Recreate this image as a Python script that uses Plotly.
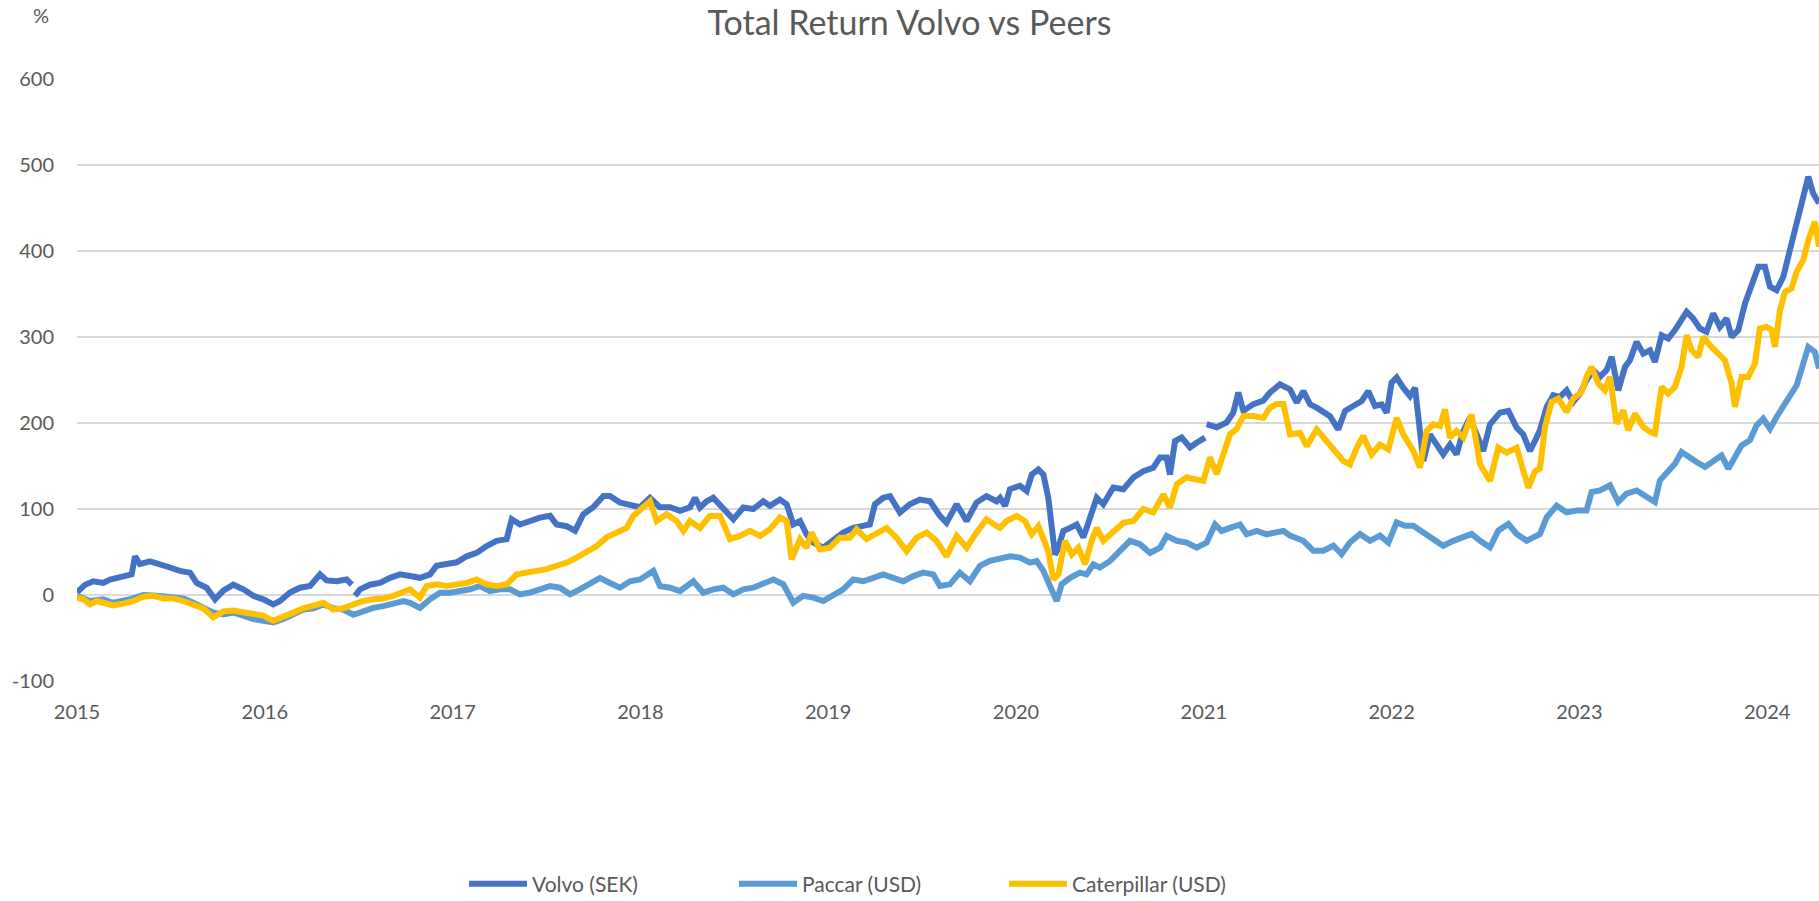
import plotly.graph_objects as go

# ---------------- data ----------------
title_text = "Total Return Volvo vs Peers"
y_unit = "%"
series_names = ["Volvo (SEK)", "Paccar (USD)", "Caterpillar (USD)"]
year_ticks = [2015, 2016, 2017, 2018, 2019, 2020, 2021, 2022, 2023, 2024]
y_ticks = [-100, 0, 100, 200, 300, 400, 500, 600]
y_tick_labels = ["-100", "0", "100", "200", "300", "400", "500", "600"]

volvo_years = [
    2015.000, 2015.043, 2015.087, 2015.140, 2015.176, 2015.211, 2015.247, 2015.291, 2015.309, 2015.335,
    2015.389, 2015.442, 2015.495, 2015.548, 2015.602, 2015.637, 2015.690, 2015.735, 2015.779, 2015.832,
    2015.886, 2015.939, 2015.992, 2016.045, 2016.081, 2016.134, 2016.187, 2016.241, 2016.294, 2016.329,
    2016.383, 2016.436, 2016.463, 2016.471, 2016.480, 2016.507, 2016.560, 2016.613, 2016.667, 2016.720,
    2016.773, 2016.826, 2016.880, 2016.915, 2016.968, 2017.022, 2017.075, 2017.128, 2017.181, 2017.235,
    2017.288, 2017.315, 2017.359, 2017.412, 2017.465, 2017.519, 2017.554, 2017.607, 2017.652, 2017.696,
    2017.749, 2017.803, 2017.838, 2017.891, 2017.945, 2017.998, 2018.051, 2018.104, 2018.158, 2018.211,
    2018.264, 2018.291,
    2018.317, 2018.353, 2018.388, 2018.441, 2018.495, 2018.548, 2018.601, 2018.654, 2018.690, 2018.743,
    2018.779, 2018.814, 2018.850, 2018.885, 2018.921, 2018.974, 2019.027, 2019.080, 2019.133, 2019.187,
    2019.222, 2019.249, 2019.293, 2019.329, 2019.382, 2019.435, 2019.488, 2019.542, 2019.595, 2019.630,
    2019.684, 2019.737, 2019.790, 2019.843, 2019.897,
    2019.915, 2019.942, 2019.968, 2020.021, 2020.057, 2020.084, 2020.119, 2020.146, 2020.172, 2020.199,
    2020.208, 2020.226, 2020.252, 2020.288, 2020.323, 2020.359, 2020.394, 2020.430, 2020.465, 2020.518,
    2020.572, 2020.625, 2020.678, 2020.731, 2020.767, 2020.802, 2020.820, 2020.847, 2020.882, 2020.927,
    2020.962, 2021.007, 2021.011, 2021.015, 2021.069, 2021.122, 2021.157, 2021.184, 2021.211, 2021.264,
    2021.317, 2021.353, 2021.406,
    2021.459, 2021.495, 2021.530, 2021.566, 2021.601, 2021.636, 2021.672, 2021.716, 2021.752, 2021.796,
    2021.841, 2021.876, 2021.912, 2021.947, 2021.974, 2022.000, 2022.027, 2022.062, 2022.098, 2022.125,
    2022.151, 2022.169, 2022.204, 2022.240, 2022.275, 2022.311, 2022.346, 2022.382, 2022.417, 2022.453,
    2022.488, 2022.524, 2022.577, 2022.622, 2022.666, 2022.701, 2022.737, 2022.772,
    2022.790, 2022.826, 2022.861, 2022.896, 2022.932, 2022.967, 2023.003, 2023.038, 2023.074, 2023.109,
    2023.145, 2023.172, 2023.207, 2023.243, 2023.269, 2023.305, 2023.340, 2023.376, 2023.402, 2023.438,
    2023.473, 2023.509, 2023.544, 2023.571, 2023.606, 2023.642, 2023.677, 2023.713, 2023.748, 2023.784,
    2023.811, 2023.846, 2023.882, 2023.917, 2023.953, 2023.988, 2024.015, 2024.050, 2024.086, 2024.121,
    2024.157, 2024.183, 2024.219, 2024.245, 2024.276,
]
volvo_values = [
    3, 12, 16, 14, 18, 20, 22, 24, 45, 36,
    39, 36, 32, 28, 26, 14, 8.5, -5, 5, 12,
    6.6, -1, -5, -11, -7, 3, 8.5, 10.5, 24, 17,
    16, 18, 12, None, -1, 6.6, 12, 14, 20, 24,
    22, 20, 24, 34, 36, 38, 45, 49, 57, 63,
    65, 88, 82, 86, 90, 92, 82, 80, 74.5, 94,
    102, 115, 115, 107.5, 105.5, 102, 113, 102, 102, 98,
    102, 113,
    101.7, 109, 113, 100, 88, 101.7, 100, 109, 103.6, 111,
    105.5, 82, 86, 70.6, 61, 55, 63, 72.6, 78, 80,
    82, 105.5, 113, 115, 96, 105.5, 111, 109, 92, 84,
    105.5, 86, 107.5, 115, 109,
    113, 103.6, 123, 127, 121, 140, 146, 140, 113, 63,
    47, 55, 74.5, 78, 82, 67, 90, 113, 105.5, 125,
    123, 136.6, 144, 148, 160, 160, 140, 179, 183, 171.5,
    177, 183, None, 198.7, 195, 200.6, 212, 235.5, 214, 222,
    226, 235.5, 245,
    239, 223.7, 237, 221.7, 217.8, 212, 208, 192.6, 214, 219.8,
    225.6, 237, 219.8, 221.7, 212, 247, 252.8, 241, 231.4, 241,
    186.8, 155.8, 186.8, 175, 163.5, 175, 163.5, 190.7, 206, 186.8,
    167.4, 198.4, 212, 214, 194.6, 186.8, 167.4, 183,
    191.5, 218.7, 232.3, 230.3, 238, 224.5, 234.2, 249.7, 261.4, 253.6,
    261.4, 276.9, 238, 265.2, 273, 294.3, 280.7, 284.6, 271, 302,
    298.2, 308, 319.6, 329.3, 321.5, 309.9, 306, 327.3, 311.8, 321.5,
    300.2, 308, 339, 358.4, 381.6, 381.6, 358.4, 354.5, 370, 401,
    432, 459.3, 486.4, 467, 455.4,
]

paccar_years = [
    2015.000, 2015.069, 2015.140, 2015.193, 2015.282, 2015.353, 2015.424, 2015.495, 2015.566, 2015.619,
    2015.673, 2015.726, 2015.779, 2015.832, 2015.886, 2015.939, 2015.992, 2016.045, 2016.099, 2016.152,
    2016.205, 2016.258, 2016.312, 2016.365, 2016.418, 2016.471, 2016.525, 2016.578, 2016.631, 2016.684,
    2016.738,
    2016.773, 2016.826, 2016.880, 2016.933, 2016.986, 2017.039, 2017.093, 2017.146, 2017.199, 2017.252,
    2017.306, 2017.359, 2017.412, 2017.465, 2017.519, 2017.572, 2017.625, 2017.678, 2017.732, 2017.785,
    2017.838, 2017.891, 2017.945, 2017.998, 2018.069, 2018.104, 2018.158, 2018.211, 2018.282, 2018.335,
    2018.388, 2018.441, 2018.495, 2018.548, 2018.601, 2018.654, 2018.708, 2018.761, 2018.814, 2018.867,
    2018.921, 2018.974, 2019.027, 2019.080, 2019.133, 2019.187, 2019.240, 2019.293, 2019.346, 2019.400,
    2019.453, 2019.506, 2019.559, 2019.595, 2019.648, 2019.701, 2019.755, 2019.808, 2019.861, 2019.914,
    2019.968, 2020.021, 2020.075, 2020.110, 2020.146, 2020.181, 2020.217, 2020.243, 2020.288, 2020.341,
    2020.376, 2020.412, 2020.447, 2020.501, 2020.554, 2020.607, 2020.660, 2020.714, 2020.767, 2020.802,
    2020.856, 2020.909, 2020.962, 2021.015, 2021.060, 2021.095, 2021.140, 2021.193, 2021.228, 2021.282,
    2021.335, 2021.388, 2021.424,
    2021.459, 2021.530, 2021.583, 2021.636, 2021.690, 2021.734, 2021.778, 2021.832, 2021.885, 2021.938,
    2021.983, 2022.027, 2022.071, 2022.116, 2022.169, 2022.222, 2022.275, 2022.329, 2022.382, 2022.426,
    2022.471, 2022.524, 2022.568, 2022.622, 2022.666, 2022.719, 2022.755,
    2022.790, 2022.826, 2022.879, 2022.932, 2022.985, 2023.038, 2023.065, 2023.109, 2023.163, 2023.207,
    2023.251, 2023.305, 2023.358, 2023.402, 2023.429, 2023.473, 2023.509, 2023.544, 2023.580, 2023.624,
    2023.669, 2023.713, 2023.757, 2023.793, 2023.828, 2023.864, 2023.908, 2023.944, 2023.979, 2024.015,
    2024.050, 2024.086, 2024.121, 2024.157, 2024.192, 2024.219, 2024.254, 2024.276,
]
paccar_values = [
    -1, -7, -5, -9, -5, 0, -1, -3, -4, -9,
    -14, -20.5, -22.5, -20.5, -24, -28, -30, -32, -28, -22.5,
    -17, -15.5, -11, -15.5, -17, -23, -19, -15, -13, -10,
    -7,
    -9, -15, -5, 2.7, 2.7, 4.6, 6.6, 10.5, 4.6, 6.6,
    6.6, 0.8, 2.7, 6.6, 10.5, 8.5, 0.8, 6.6, 14, 20,
    14, 8.5, 16, 18, 28, 10.5, 8.5, 4.6, 16, 2.7,
    6.6, 8.5, 0.8, 6.6, 8.5, 14, 18, 12.4, -9, -1,
    -3, -7, -1, 6.6, 18, 16, 20, 24, 20, 16,
    22, 26, 24, 10.5, 12.4, 26, 16, 33.8, 39.6, 41.5,
    45, 43.5, 37.6, 39.6, 28, 10.5, -7, 12.4, 20, 26,
    24, 35.7, 32, 39.6, 51, 63, 59, 49, 55, 68.7,
    63, 61, 55, 61, 82, 74.5, 78, 82, 70.6, 74.5,
    70.6, 72.6, 74.5,
    69, 63, 51.5, 51.5, 57.3, 47.6, 61, 71, 63, 69,
    61, 84.5, 80.6, 80.6, 72.8, 65, 57.3, 63, 67, 71,
    63, 55.4, 74.8, 82.5, 71, 63, 67,
    70.9, 90.3, 103.9, 96.1, 98.2, 98.2, 119.7, 121.6, 127.5, 108.1,
    117.8, 121.6, 113.9, 108.1, 133.3, 143, 152.7, 166.3, 160.4, 154.6,
    148.8, 156.6, 162.4, 146.9, 160.4, 174, 179.9, 197.3, 205, 193.4,
    207, 218.7, 230.3, 243.9, 269.1, 288.5, 282.7, 263.3,
]

caterpillar_years = [
    2015.000, 2015.034, 2015.069, 2015.105, 2015.140, 2015.193, 2015.247, 2015.300, 2015.353, 2015.406,
    2015.460, 2015.513, 2015.566, 2015.619, 2015.673, 2015.726, 2015.779, 2015.832, 2015.886, 2015.939,
    2015.992, 2016.045, 2016.099, 2016.152, 2016.205, 2016.258, 2016.312, 2016.365, 2016.418, 2016.471,
    2016.525, 2016.578, 2016.631, 2016.684, 2016.738,
    2016.773, 2016.826, 2016.862, 2016.915, 2016.968, 2017.022, 2017.075, 2017.128, 2017.181, 2017.235,
    2017.288, 2017.341, 2017.394, 2017.448, 2017.501, 2017.554, 2017.607, 2017.661, 2017.714, 2017.767,
    2017.820, 2017.874, 2017.927, 2017.962, 2018.016, 2018.051, 2018.087, 2018.140, 2018.193, 2018.229,
    2018.264, 2018.317,
    2018.370, 2018.424, 2018.477, 2018.530, 2018.583, 2018.637, 2018.690, 2018.743, 2018.779, 2018.805,
    2018.850, 2018.885, 2018.912, 2018.956, 2019.009, 2019.062, 2019.116, 2019.151, 2019.204, 2019.258,
    2019.311, 2019.364, 2019.417, 2019.471, 2019.524, 2019.577, 2019.630, 2019.684, 2019.737, 2019.790,
    2019.843, 2019.897,
    2019.915, 2019.950, 2020.004, 2020.048, 2020.084, 2020.119, 2020.146, 2020.172, 2020.199, 2020.226,
    2020.261, 2020.297, 2020.332, 2020.368, 2020.403, 2020.430, 2020.465, 2020.518, 2020.572, 2020.625,
    2020.678, 2020.731, 2020.785, 2020.820, 2020.856, 2020.909, 2020.962, 2020.998, 2021.033, 2021.069,
    2021.104, 2021.140, 2021.175, 2021.211, 2021.264, 2021.317, 2021.353, 2021.388, 2021.424,
    2021.459, 2021.512, 2021.548, 2021.601, 2021.654, 2021.707, 2021.743, 2021.778, 2021.814, 2021.849,
    2021.894, 2021.938, 2021.983, 2022.027, 2022.062, 2022.116, 2022.151, 2022.187, 2022.222, 2022.258,
    2022.284, 2022.311, 2022.346, 2022.382, 2022.426, 2022.471, 2022.524, 2022.568, 2022.613, 2022.666,
    2022.701, 2022.728, 2022.764,
    2022.790, 2022.817, 2022.852, 2022.888, 2022.932, 2022.967, 2023.012, 2023.038, 2023.065, 2023.101,
    2023.136, 2023.163, 2023.198, 2023.234, 2023.260, 2023.296, 2023.340, 2023.376, 2023.402, 2023.438,
    2023.473, 2023.509, 2023.544, 2023.571, 2023.598, 2023.633, 2023.660, 2023.695, 2023.740, 2023.775,
    2023.811, 2023.828, 2023.864, 2023.899, 2023.935, 2023.961, 2023.997, 2024.024, 2024.041, 2024.068,
    2024.095, 2024.130, 2024.157, 2024.192, 2024.219, 2024.254, 2024.276,
]
caterpillar_values = [
    -3, -5, -11, -7, -9, -12, -10, -7, -2, -1,
    -4, -4, -7, -11, -15.5, -26, -19, -18, -20.5, -22.5,
    -24, -30, -26, -20.5, -15.5, -13, -9, -17, -15.5, -11,
    -7, -5, -4, -1, 3,
    6.6, -3, 10.5, 12.4, 10.5, 12.4, 14, 18, 12.4, 10.5,
    12.4, 24, 26, 29, 30, 34, 37.6, 43.5, 51, 57,
    67, 72.6, 78, 92, 103.6, 109, 86, 94, 86, 74.5,
    86, 78,
    92, 92, 65, 68.7, 74.5, 68.7, 76.4, 90, 86, 41.5,
    65, 55, 72.6, 53, 55, 66.7, 66.7, 76.4, 65, 72.6,
    78, 66.7, 51, 66.7, 72.6, 63, 45, 68.7, 55, 72.6,
    88, 80,
    78, 86, 92, 86, 70.6, 80, 67, 51, 18, 24,
    63, 47, 55, 35.7, 63, 78, 63, 74.5, 84, 86,
    100, 96, 117, 101.7, 129, 136.6, 134.7, 132.7, 160, 140.5,
    163.8, 187, 193, 208, 208, 206, 218, 222, 222,
    186.8, 188.7, 173, 192.6, 179, 163.5, 155.8, 152, 171.3, 185,
    163.5, 175, 169.3, 206, 186.8, 167.4, 148, 190.7, 198.4, 196.5,
    216, 183, 190.7, 183, 210, 152, 132.5, 171.3, 165.5, 171.3,
    148, 124.7, 144,
    146.9, 195.4, 224.5, 228.4, 213, 228.4, 236.1, 253.6, 265.2, 245.8,
    238, 253.6, 199.3, 214.8, 191.5, 210.9, 195.4, 189.6, 187.6, 241.9,
    234.2, 241.9, 265.2, 302, 284.6, 276.9, 300.2, 290.5, 280.7, 273,
    245.8, 218.7, 253.6, 253.6, 269.1, 309.9, 311.8, 308, 288.5, 331.2,
    352.5, 356.4, 375.8, 389.4, 412.7, 434, 404.9,
]

# ---------------- styling ----------------
colors = ["#4472C4", "#5B9BD5", "#FFC000"]
text_color = "#595959"
grid_color = "#D9D9D9"
font_family = "Lato, 'Open Sans', sans-serif"

fig = go.Figure()
for name, xs, ys, col in [
    (series_names[0], volvo_years, volvo_values, colors[0]),
    (series_names[1], paccar_years, paccar_values, colors[1]),
    (series_names[2], caterpillar_years, caterpillar_values, colors[2]),
]:
    fig.add_trace(go.Scatter(
        x=xs, y=ys, name=name, mode="lines",
        line=dict(color=col, width=6, shape="linear"),
        connectgaps=False,
    ))

fig.update_layout(
    width=1819, height=901,
    paper_bgcolor="white", plot_bgcolor="white",
    margin=dict(l=77, r=0, t=79, b=220),
    font=dict(family=font_family, color=text_color, size=20),
    title=dict(text=title_text, x=0.5, xref="container", xanchor="center",
               y=1 - 23 / 901, yref="container", yanchor="middle",
               font=dict(size=34, color=text_color, family=font_family)),
    showlegend=True,
    legend=dict(orientation="h", xref="container", yref="container",
                x=464 / 1819, xanchor="left", y=1 - 884 / 901, yanchor="middle",
                font=dict(size=21, color=text_color), itemwidth=58,
                entrywidth=197, traceorder="normal", bgcolor="rgba(0,0,0,0)"),
    xaxis=dict(range=[2015, 2024.276], tickmode="array", tickvals=year_ticks,
               ticktext=[str(v) for v in year_ticks], showgrid=False, zeroline=False,
               showline=False, ticks="", ticklabelstandoff=17, automargin=False,
               tickfont=dict(size=20, color=text_color)),
    yaxis=dict(range=[-100, 600], tickmode="array", tickvals=y_ticks,
               ticktext=y_tick_labels,
               showgrid=True, gridcolor=grid_color, gridwidth=2,
               zeroline=True, zerolinecolor=grid_color, zerolinewidth=2,
               showline=False, ticks="", ticklabelstandoff=22, automargin=False,
               tickfont=dict(size=20, color=text_color)),
    annotations=[dict(text=y_unit, xref="paper", yref="paper",
                      x=(41 - 77) / 1742, y=(681 - 15) / 602,
                      xanchor="center", yanchor="middle",
                      showarrow=False, font=dict(size=20, color=text_color))],
)

fig.write_html("out.html", config={"displayModeBar": False},
               post_script="document.body.style.margin='0px';document.body.style.overflow='hidden';")
